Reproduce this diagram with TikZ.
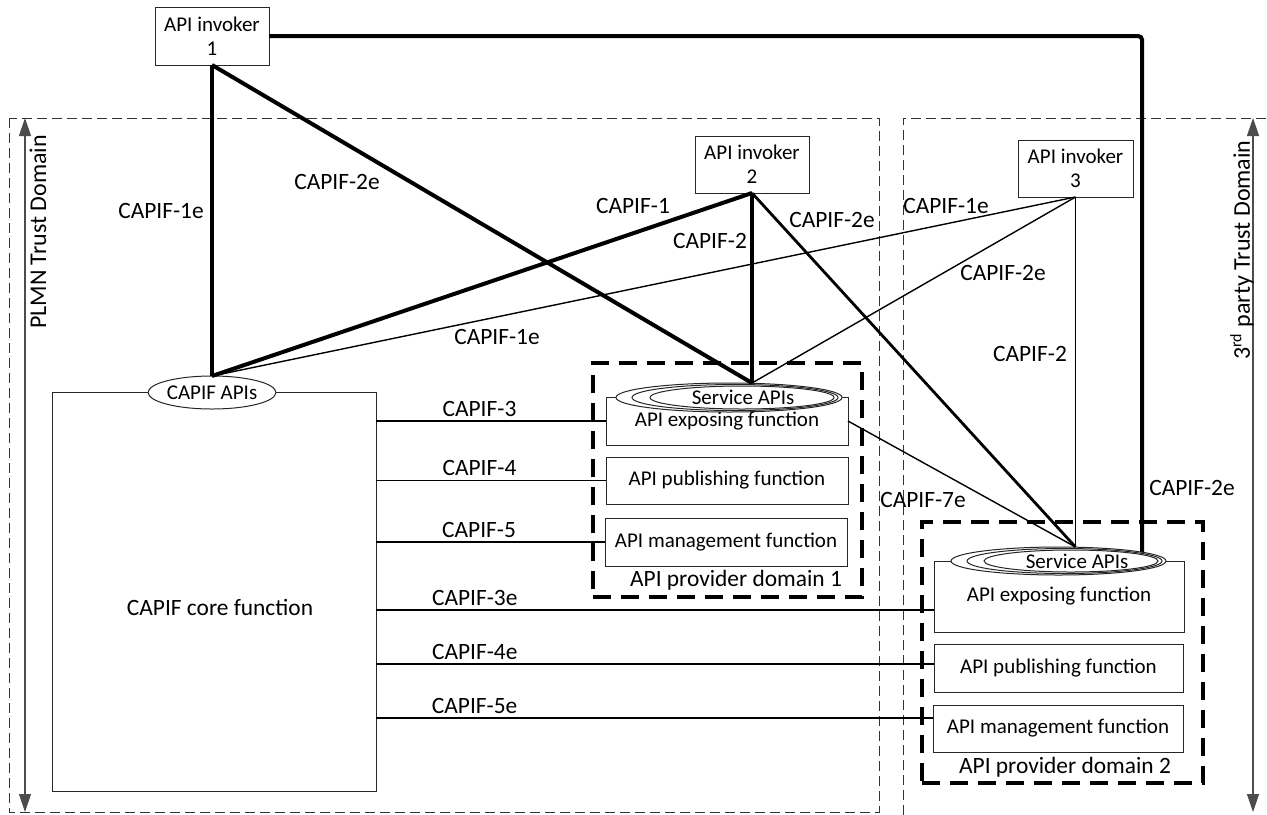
\documentclass[tikz,border=0pt]{standalone}
\usepackage{fontspec}
\setmainfont{Carlito}
\usetikzlibrary{arrows.meta,shapes.geometric}

\begin{document}
\begin{tikzpicture}[x=0.5pt,y=-0.5pt,
	box/.style={draw=black!85,line width=0.5pt,fill=white,inner sep=0,outer sep=0,font=\fontsize{10.5}{12}\selectfont,align=center},
	api/.style={draw=black!85,line width=0.5pt,fill=white,ellipse,inner sep=0,outer sep=0,font=\fontsize{10.5}{12}\selectfont},
	lbl/.style={font=\fontsize{11.7}{13}\selectfont,inner sep=0},
	fat/.style={line width=2pt},
	mid/.style={line width=1.4pt},
	fine/.style={line width=0.7pt},
	prov/.style={draw,line width=2pt,dash pattern=on 9pt off 5pt,inner sep=0,outer sep=0},
	trust/.style={draw=black!80,line width=0.5pt,dash pattern=on 5pt off 2.5pt},
	span/.style={draw=black!70,line width=0.6pt,{Triangle[width=6pt,length=9pt]}-{Triangle[width=6pt,length=9pt]}}]
	\useasboundingbox (0,0) rectangle (1267,814);
	\draw[trust] (9,118) rectangle (879,812);
	\draw[trust] (903,830) -- (903,118) -- (1280,118);
	\coordinate (a1) at (25,118);
	\coordinate (a2) at (25,812);
	\coordinate (b1) at (1253,118);
	\coordinate (b2) at (1253,812);
	\draw[span] (a1) -- (a2);
	\draw[span] (b1) -- (b2);
	\node[lbl,rotate=90,font=\fontsize{12}{14}\selectfont] (plmn) at (38,232) {PLMN Trust Domain};
	\node[lbl,rotate=90,font=\fontsize{12}{14}\selectfont] (third) at (1242,250) {3\textsuperscript{rd} party Trust Domain};
	\node[box,minimum width=57pt,minimum height=29pt] (i1) at (212,36) {API invoker\\1};
	\node[box,minimum width=57pt,minimum height=28.5pt] (i2) at (752,164.5) {API invoker\\2};
	\node[box,minimum width=57.5pt,minimum height=28.5pt] (i3) at (1075.5,168.5) {API invoker\\3};
	\node[box,minimum width=162pt,minimum height=199.5pt] (core) at (214,591.5) {};
	\node[lbl] (coretxt) at (220,607) {CAPIF core function};
	\node[api,minimum width=62.5pt,minimum height=16.5pt] (capis) at (212,392.5) {CAPIF APIs};
	\node[prov,minimum width=134.5pt,minimum height=117pt] (pd1) at (727.5,480) {};
	\node[lbl] (pd1txt) at (736,580) {API provider domain 1};
	\node[box,minimum width=121pt,minimum height=24pt] (e1) at (727,421) {API exposing function};
	\node[box,minimum width=121pt,minimum height=23.5pt] (p1) at (727,480.5) {API publishing function};
	\node[box,minimum width=121pt,minimum height=24pt] (m1) at (726,542) {API management function};
	\node[api,minimum width=113pt,minimum height=14.5pt,anchor=east] (s1a) at (842,397.5) {};
	\node[api,minimum width=103pt,minimum height=13pt,anchor=east] (s1b) at (838,397.5) {};
	\node[api,minimum width=92pt,minimum height=11.5pt,anchor=east] (s1c) at (834,397.5) {};
	\node[lbl,font=\fontsize{10.5}{12}\selectfont] (s1) at (743,397) {Service APIs};
	\node[prov,minimum width=140.5pt,minimum height=130.5pt] (pd2) at (1062.5,652.5) {};
	\node[lbl] (pd2txt) at (1065,767) {API provider domain 2};
	\node[box,minimum width=125pt,minimum height=35.5pt] (e2) at (1059,596.5) {API exposing function};
	\node[box,minimum width=124.5pt,minimum height=24pt] (p2) at (1058.5,668) {API publishing function};
	\node[box,minimum width=125pt,minimum height=23.5pt] (m2) at (1058,728.5) {API management function};
	\node[api,minimum width=107.5pt,minimum height=14pt,anchor=east] (s2a) at (1166,561) {};
	\node[api,minimum width=97.5pt,minimum height=12.5pt,anchor=east] (s2b) at (1162,561) {};
	\node[api,minimum width=87pt,minimum height=11pt,anchor=east] (s2c) at (1158,561) {};
	\node[lbl,font=\fontsize{10.5}{12}\selectfont] (s2) at (1077,561) {Service APIs};
	\coordinate (t1) at (s1a.north -| i2.south);
	\coordinate (t2) at (s2a.north -| i3.south);
	\draw[fat] (i1.south) -- (capis.north);
	\draw[fat] (i1.south) -- (t1);
	\draw[fat,rounded corners=2pt] (i1.east) -| (s2a.6);
	\draw[fat] (i2.south) -- (capis.north);
	\draw[fat] (i2.south) -- (t1);
	\draw[mid] (i2.south) -- (t2);
	\draw[fine] (i3.south) -- (capis.north);
	\draw[fine] (i3.south) -- (t1);
	\draw[fine] (i3.south) -- (t2);
	\draw[fine] (e1.east) -- (t2);
	\coordinate (e2in) at ([yshift=-6.75pt]e2.west);
	\coordinate (p2in) at ([yshift=2pt]p2.west);
	\coordinate (m2in) at ([yshift=5.25pt]m2.west);
	\draw[fine] (e1.west -| core.east) -- node[lbl,pos=0.45,above=2pt] (l3) {CAPIF-3} (e1.west);
	\draw[fine] (p1.west -| core.east) -- node[lbl,pos=0.45,above=2pt] (l4) {CAPIF-4} (p1.west);
	\draw[fine] (m1.west -| core.east) -- node[lbl,pos=0.45,above=2pt] (l5) {CAPIF-5} (m1.west);
	\draw[fine] (e2in -| core.east) -- node[lbl,pos=0.177,above=2pt] (l3e) {CAPIF-3e} (e2in);
	\draw[fine] (p2in -| core.east) -- node[lbl,pos=0.177,above=2pt] (l4e) {CAPIF-4e} (p2in);
	\draw[fine] (m2in -| core.east) -- node[lbl,pos=0.177,above=2pt] (l5e) {CAPIF-5e} (m2in);
	\node[lbl] (l1e) at (161,211) {CAPIF-1e};
	\node[lbl] (l2e) at (337,182) {CAPIF-2e};
	\node[lbl] (l1) at (633,206) {CAPIF-1};
	\node[lbl] (l2) at (710,241) {CAPIF-2};
	\node[lbl] (l2eb) at (832,220) {CAPIF-2e};
	\node[lbl] (l1eb) at (946,206) {CAPIF-1e};
	\node[lbl] (l2ec) at (1003,273) {CAPIF-2e};
	\node[lbl] (l2c) at (1030,354) {CAPIF-2};
	\node[lbl] (l1ec) at (497,337) {CAPIF-1e};
	\node[lbl] (l7e) at (923,500) {CAPIF-7e};
	\node[lbl] (l2ed) at (1192,488) {CAPIF-2e};
\end{tikzpicture}
\end{document}
